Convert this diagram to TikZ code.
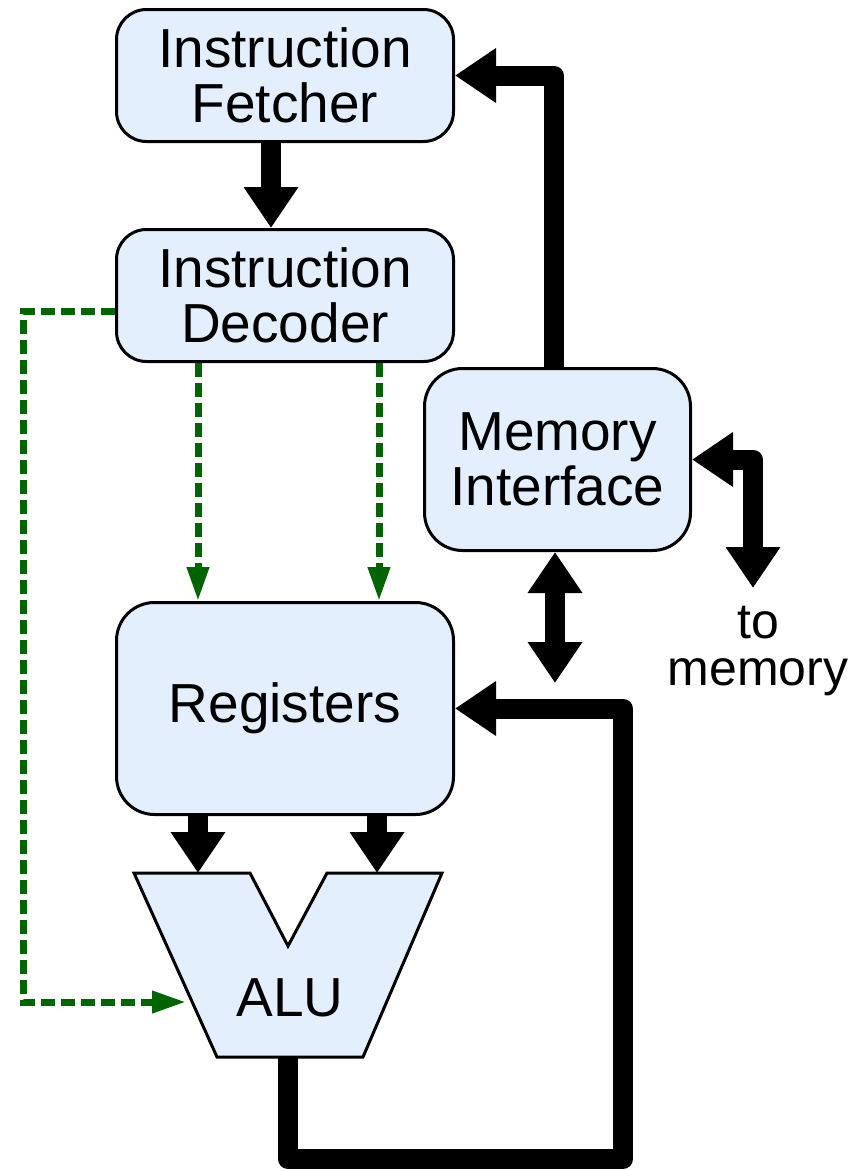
\documentclass[tikz,border=0pt]{standalone}
\usepackage{fontspec}
\setmainfont{Liberation Sans}
\usetikzlibrary{arrows.meta}
\usetikzlibrary{positioning}
\definecolor{unitfill}{RGB}{227,239,252}
\definecolor{ctrlgreen}{RGB}{0,100,0}
\tikzset{
    unit/.style={
           rectangle,
           rounded corners=30pt,
           draw=black, line width=3pt,
           fill=unitfill,
           minimum width=337pt,
           minimum height=132pt,
           inner sep=0pt,
           align=center,
           font={\fontsize{55}{55}\selectfont},
           },
    bus/.style={
           draw=black, line width=20pt,
           line join=round,
           >={Triangle[width=52pt,length=41pt]},
           },
    ctrl/.style={
           draw=ctrlgreen, line width=7pt,
           dash pattern=on 14pt off 6pt,
           >={Triangle[width=21pt,length=34pt]},
           },
}
\begin{document}
\begin{tikzpicture}[x=1pt,y=-1pt]
      \useasboundingbox (0,0) rectangle (857,1170);
      % units
      \node[unit] (fetcher) at (285,75.5)           {Instruction\\Fetcher};
      \node[unit] (decoder) [below=85pt of fetcher] {Instruction\\Decoder};
      \node[unit, minimum height=212pt, rounded corners=38pt] (registers) [below=238pt of decoder] {Registers};
      \node[unit, minimum width=266pt, minimum height=182pt, rounded corners=38pt] (memif) at (557.5,459.5) {Memory\\Interface};
      \node[font={\fontsize{50}{47}\selectfont}, align=center, inner sep=0pt, anchor=north] (tomem) at (758,606) {to\\memory};
      % ALU
      \draw[line width=3pt, fill=unitfill] (134,873) -- (250,873) -- (288,946) -- (327,873)
            -- (442,873) -- (363,1057) -- (217,1057) -- cycle;
      \node[font={\fontsize{55}{55}\selectfont}] (alu) at (290,998) {ALU};
      \coordinate (aluin1) at (198,873);
      \coordinate (aluin2) at (377,873);
      \coordinate (aluout) at (288,1057);
      \coordinate (aluctl) at (186,1002);
      \coordinate (ctrlcorner) at (23,1002);
      \coordinate (fbcorner) at (623,1159);
      \coordinate (junction) at (555,683);
      \coordinate (memport) at (753,588);
      % data paths
      \draw[bus, ->] ([xshift=-14pt]fetcher.south) -- ([xshift=-14pt]decoder.north);
      \draw[bus, ->] ([xshift=-3.5pt]memif.north) |- (fetcher.east);
      \draw[bus, <->] (memif.east) -| (memport);
      \draw[bus, <->] (memif.south -| junction) -- (junction);
      \draw[bus, ->] (registers.south -| aluin1) -- (aluin1);
      \draw[bus, ->] (registers.south -| aluin2) -- (aluin2);
      \draw[bus, ->] (aluout) |- (fbcorner) |- (registers.east);
      % control paths
      \draw[ctrl, ->] (decoder.south -| aluin1) -- (registers.north -| aluin1);
      \draw[ctrl, ->] ([xshift=2pt]decoder.south -| aluin2) -- ([xshift=2pt]registers.north -| aluin2);
      \draw[ctrl, ->] ([yshift=-16pt]decoder.west) -| (ctrlcorner) -- (aluctl);
\end{tikzpicture}
\end{document}
